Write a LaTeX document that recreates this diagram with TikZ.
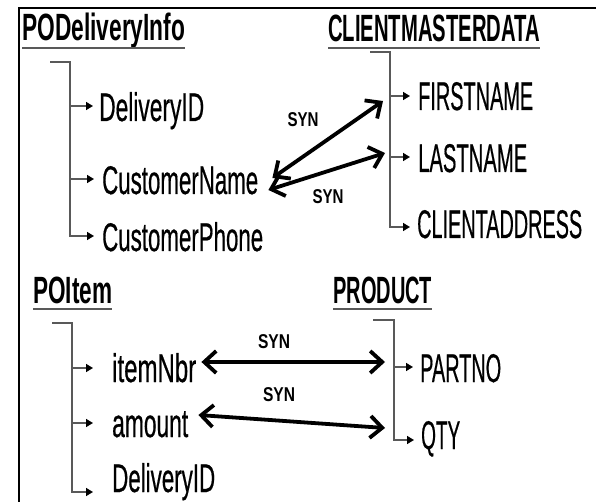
\documentclass[tikz,border=0pt]{standalone}
\usepackage{fontspec}
\setmainfont{Liberation Sans}
\newfontfamily\fieldfont[FakeBold=0.7]{Liberation Sans}
\usetikzlibrary{arrows.meta}
% set a text at a given width (in pt), keeping its height
\newcommand\fitw[2]{\resizebox{#1pt}{\height}{#2}}
\tikzset{
  title/.style={anchor=base west, inner sep=0pt, font=\fontsize{38}{44}\selectfont\bfseries},
  field/.style={anchor=base west, inner sep=0pt, font=\fieldfont\fontsize{40}{46}\selectfont},
  synlabel/.style={inner sep=0pt, font=\fontsize{20}{24}\selectfont\bfseries},
  uline/.style={draw=black!65, line width=2pt},
  tree/.style={draw=black!65, line width=1.5pt},
  branch/.style={tree, -{Triangle[length=7pt,width=8pt,color=black]}},
  syn/.style={line width=3.8pt, {Straight Barb[length=12pt,width=22pt]}-{Straight Barb[length=12pt,width=22pt]}},
}
\begin{document}
\begin{tikzpicture}[x=1pt,y=-1pt]
\useasboundingbox (0,0) rectangle (596,502);
% frame
\draw[line width=1.5pt] (19,502) -- (19,8) -- (596,8);

% ---------- PODeliveryInfo ----------
\node[title] (podi) at (22,41) {\fitw{163}{PODeliveryInfo}};
\draw[uline] ([yshift=-7pt]podi.base west) -- ([yshift=-7pt]podi.base east);
\node[field] (did)    at (99,121)  {\fitw{105}{DeliveryID}};
\node[field] (cname)  at (102,194) {\fitw{156}{CustomerName}};
\node[field] (cphone) at (102,251) {\fitw{161}{CustomerPhone}};
\coordinate (t1a) at (50,62);
\coordinate (t1b) at (70,62);
\coordinate (t1c) at (70,106);
\coordinate (t1d) at (70,179);
\coordinate (t1e) at (70,236);
\draw[branch] (t1a) -- (t1b) -- (t1e) -- ([xshift=-8pt]t1e -| cphone.west);
\draw[branch] (t1c) -- ([xshift=-6pt]t1c -| did.west);
\draw[branch] (t1d) -- ([xshift=-8pt]t1d -| cname.west);

% ---------- CLIENTMASTERDATA ----------
\node[title] (cmd) at (328,42) {\fitw{212}{CLIENTMASTERDATA}};
\draw[uline] ([yshift=-6pt]cmd.base west) -- ([yshift=-6pt]cmd.base east);
\node[field] (fname) at (418,110) {\fitw{115}{FIRSTNAME}};
\node[field] (lname) at (418,172) {\fitw{109}{LASTNAME}};
\node[field] (caddr) at (417,238) {\fitw{165}{CLIENTADDRESS}};
\coordinate (t2a) at (370,52);
\coordinate (t2b) at (390,52);
\coordinate (t2c) at (390,96);
\coordinate (t2d) at (390,157);
\coordinate (t2e) at (390,227);
\draw[branch] (t2a) -- (t2b) -- (t2e) -- ([xshift=-7pt]t2e -| caddr.west);
\draw[branch] (t2c) -- ([xshift=-8pt]t2c -| fname.west);
\draw[branch] (t2d) -- ([xshift=-8pt]t2d -| lname.west);

% synonyms between the two records
\coordinate (fnIn) at (383,101);
\coordinate (lnIn) at (385,153);
\draw[syn] ([xshift=14pt,yshift=16pt]cname.base east) -- (fnIn);
\draw[syn] ([xshift=10pt,yshift=4pt]cname.base east) -- (lnIn);
\node[synlabel] (syn1) at (303,120) {\fitw{31}{SYN}};
\node[synlabel] (syn2) at (328,197) {\fitw{31}{SYN}};

% ---------- POItem ----------
\node[title] (poi) at (33,303) {\fitw{79}{POItem}};
\draw[uline] ([yshift=-6pt]poi.base west) -- ([yshift=-6pt]poi.base east);
\node[field] (inbr) at (112,382) {\fitw{84}{itemNbr}};
\node[field] (amt)  at (112,437) {\fitw{76}{amount}};
\node[field] (did2) at (112,492) {\fitw{103}{DeliveryID}};
\coordinate (t3a) at (52,323);
\coordinate (t3b) at (72,323);
\coordinate (t3c) at (72,368);
\coordinate (t3d) at (72,423);
\coordinate (t3e) at (72,492);
\draw[branch] (t3a) -- (t3b) -- (t3e) -- ([xshift=-19pt]t3e -| did2.west);
\draw[branch] (t3c) -- ([xshift=-19pt]t3c -| inbr.west);
\draw[branch] (t3d) -- ([xshift=-19pt]t3d -| amt.west);

% ---------- PRODUCT ----------
\node[title] (prod) at (333,303) {\fitw{99}{PRODUCT}};
\draw[uline] ([yshift=-6pt]prod.base west) -- ([yshift=-6pt]prod.base east);
\node[field] (partno) at (420,382) {\fitw{81}{PARTNO}};
\node[field] (qty)    at (421,449) {\fitw{39}{QTY}};
\coordinate (t4a) at (373,320);
\coordinate (t4b) at (394,320);
\coordinate (t4c) at (394,367);
\coordinate (t4e) at (394,440);
\draw[branch] (t4a) -- (t4b) -- (t4e) -- ([xshift=-7pt]t4e -| qty.west);
\draw[branch] (t4c) -- ([xshift=-7pt]t4c -| partno.west);

% synonyms between item and product
\coordinate (pnIn) at (385,362);
\coordinate (qtIn) at (385,428);
\draw[syn] ([xshift=5pt,yshift=20pt]inbr.base east) -- (pnIn);
\draw[syn] ([xshift=10pt,yshift=22pt]amt.base east) -- (qtIn);
\node[synlabel] (syn3) at (274,342) {\fitw{32}{SYN}};
\node[synlabel] (syn4) at (279,395) {\fitw{32}{SYN}};
\end{tikzpicture}
\end{document}
